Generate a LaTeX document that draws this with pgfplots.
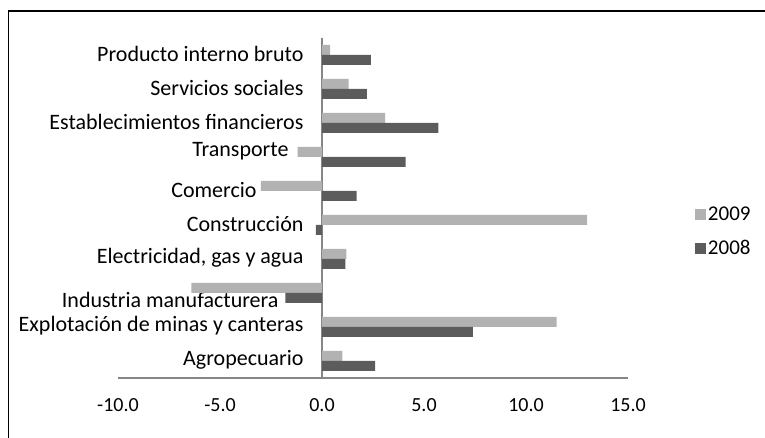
\documentclass[border=0pt]{standalone}
\usepackage{fontspec}
\setmainfont{Carlito}
\usepackage{pgfplots}
\pgfplotsset{compat=1.18}
\definecolor{light}{RGB}{178,178,178}
\definecolor{dark}{RGB}{92,92,92}
\definecolor{axisgray}{RGB}{134,134,134}

\begin{document}
\begin{tikzpicture}[x=1pt,y=1pt]
  \useasboundingbox (0,0) rectangle (765,438);
  % outer frame (only left and top edges are visible)
  \draw[line width=1.2pt] (8.5,0) -- (8.5,427) -- (765,427);
  \begin{axis}[
      at={(118pt,60pt)}, anchor=south west,
      scale only axis,
      width=510pt, height=340pt,
      xmin=-10, xmax=15,
      ymin=-0.5, ymax=9.5,
      xbar, bar width=10pt,
      axis x line=bottom,
      axis y line=center,
      axis line style={axisgray, line width=2pt, -},
      xtick={-10,-5,0,5,10,15},
      xticklabel={\pgfmathprintnumber[fixed,fixed zerofill,precision=1]{\tick}},
      /pgf/number format/assume math mode=true,
      major tick length=0pt,
      xticklabel style={yshift=-17pt, font=\fontsize{20}{24}\selectfont},
      ytick={0,...,9},
      yticklabels={Agropecuario, Explotación de minas y canteras,
        \raisebox{-15.5pt}[0pt][0pt]{Industria manufacturera}\hspace*{25pt},
        {Electricidad, gas y agua}, Construcción,
        Comercio\hspace*{47pt},
        \raisebox{-1pt}[0pt][0pt]{Transporte}\hspace*{15pt},
        Establecimientos financieros, Servicios sociales, Producto interno bruto},
      yticklabel style={font=\fontsize{22}{26}\selectfont, xshift=-15pt, yshift=1pt},
      legend style={at={(1.125,0.43)}, anchor=west, draw=none, fill=none,
        font=\fontsize{21}{25}\selectfont, row sep=14pt},
      legend cell align=left,
      legend image code/.code={\fill[#1] (0pt,-5.5pt) rectangle (11pt,5.5pt);},
      clip=false,
    ]
    \addplot[fill=light, draw=none, bar shift=5pt] coordinates {
      (1.0,0) (11.5,1) (-6.4,2) (1.2,3) (13.0,4) (-3.0,5) (-1.2,6) (3.1,7) (1.3,8) (0.4,9)
    };
    \addlegendentry{2009}
    \addplot[fill=dark, draw=none, bar shift=-5pt] coordinates {
      (2.6,0) (7.4,1) (-1.8,2) (1.15,3) (-0.3,4) (1.7,5) (4.1,6) (5.7,7) (2.2,8) (2.4,9)
    };
    \addlegendentry{2008}
  \end{axis}
\end{tikzpicture}
\end{document}
